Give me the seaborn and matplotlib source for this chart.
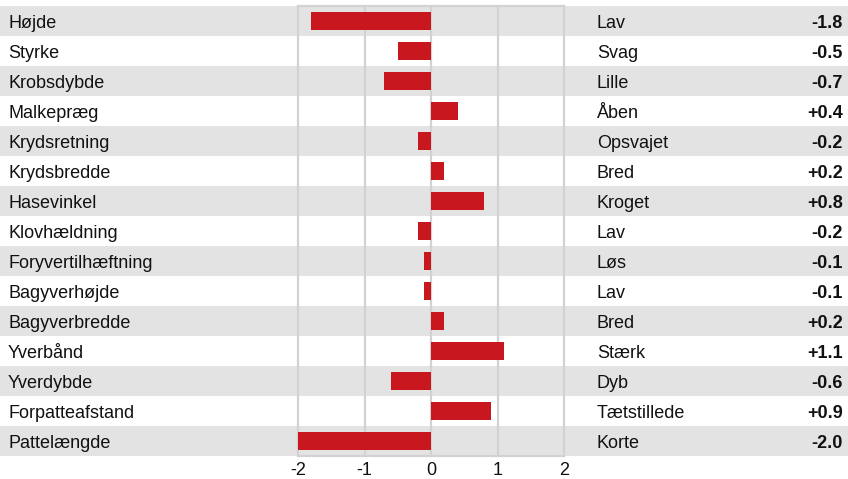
import numpy as np
import pandas as pd
import matplotlib
matplotlib.use("Agg")
import matplotlib.pyplot as plt
import seaborn as sns

# Data
traits = ["Højde", "Styrke", "Krobsdybde", "Malkepræg", "Krydsretning", "Krydsbredde",
          "Hasevinkel", "Klovhældning", "Foryvertilhæftning", "Bagyverhøjde",
          "Bagyverbredde", "Yverbånd", "Yverdybde", "Forpatteafstand", "Pattelængde"]
descriptions = ["Lav", "Svag", "Lille", "Åben", "Opsvajet", "Bred", "Kroget", "Lav",
                "Løs", "Lav", "Bred", "Stærk", "Dyb", "Tætstillede", "Korte"]
values = [-1.8, -0.5, -0.7, 0.4, -0.2, 0.2, 0.8, -0.2, -0.1, -0.1, 0.2, 1.1, -0.6, 0.9, -2.0]
xticks = [-2, -1, 0, 1, 2]

sns.set_theme(style="white")
plt.rcParams["font.family"] = ["Liberation Sans", "DejaVu Sans"]

W, H = 848, 479
fig = plt.figure(figsize=(W / 100, H / 100), dpi=100)
fig.patch.set_facecolor("white")

top_px, bot_px = 6, 456
ax_left, ax_right = 298, 564
y0 = (H - bot_px) / H
hgt = (bot_px - top_px) / H

band = "#e3e3e3"
grid_c = "#d2d2d2"
bar_c = "#c8171e"
n = len(traits)

# background axes spanning the full width, for bands and text
bg = fig.add_axes([0, y0, 1, hgt])
bg.set_xlim(0, W)
bg.set_ylim(n - 0.5, -0.5)
bg.axis("off")
for i in range(n):
    if i % 2 == 0:
        bg.axhspan(i - 0.5, i + 0.5, color=band, lw=0, zorder=0)
    bg.text(8, i, traits[i], ha="left", va="center_baseline", fontsize=13, color="#111111")
    bg.text(597, i, descriptions[i], ha="left", va="center_baseline", fontsize=13, color="#111111")
    bg.text(843, i, f"{values[i]:+.1f}", ha="right", va="center_baseline", fontsize=13,
            fontweight="bold", color="#111111")

# bar axes
ax = fig.add_axes([ax_left / W, y0, (ax_right - ax_left) / W, hgt])
ax.patch.set_alpha(0)
df = pd.DataFrame({"trait": traits, "value": values})
sns.barplot(data=df, x="value", y="trait", orient="h", color=bar_c, saturation=1,
            width=0.6, ax=ax, zorder=3, linewidth=0, edgecolor="none")
ax.set_xlim(-2, 2)
ax.set_ylim(n - 0.5, -0.5)
ax.set_xticks(xticks)
ax.set_xticklabels([str(t) for t in xticks], fontsize=13, color="#111111")
ax.set_yticks([])
ax.set_xlabel("")
ax.set_ylabel("")
for t in [-1, 0, 1]:
    ax.axvline(t, color=grid_c, lw=1.6, zorder=1)
for s in ax.spines.values():
    s.set_visible(True)
    s.set_color(grid_c)
    s.set_linewidth(1.6)
ax.tick_params(axis="x", length=0, pad=4)

fig.savefig("out.png", dpi=100)
